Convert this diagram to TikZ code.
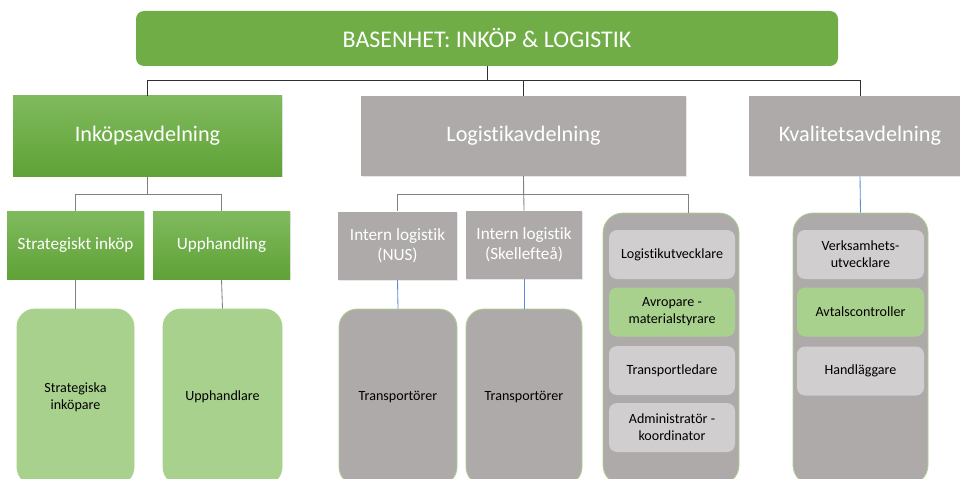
\documentclass[tikz,border=0pt]{standalone}
\usepackage{fontspec}
\setmainfont{Carlito}[Ligatures=NoCommon]
\usetikzlibrary{shadows}

\newlength\pxu
\setlength\pxu{0.025cm}

\definecolor{basgreen}{HTML}{70AD47}
\definecolor{topgreen}{HTML}{80BA5E}
\definecolor{botgreen}{HTML}{5FA236}
\definecolor{lightgreen}{HTML}{A9D18E}
\definecolor{unitgray}{HTML}{AEAAAA}
\definecolor{rolegray}{HTML}{D0CECE}
\definecolor{linkblue}{HTML}{5B8BD6}
\definecolor{linkgray}{HTML}{808080}
\definecolor{linkdark}{HTML}{303030}

\tikzset{
  softshadow/.style={drop shadow={opacity=0.18,shadow xshift=1pt,shadow yshift=-1pt}},
  unit/.style={minimum height=80\pxu, text=white, softshadow,
    font=\fontsize{15.8}{18}\selectfont},
  greenunit/.style={unit, top color=topgreen, bottom color=botgreen},
  grayunit/.style={unit, fill=unitgray},
  subunit/.style={minimum height=68\pxu, align=center, text=white, softshadow,
    font=\fontsize{12.2}{14.5}\selectfont},
  staff/.style={rounded corners=18\pxu, draw=lightgreen, line width=0.6pt,
    minimum width=118\pxu, minimum height=176\pxu, align=center,
    font=\fontsize{10}{12}\selectfont},
  group/.style={rounded corners=20\pxu, draw=lightgreen, line width=0.6pt,
    fill=unitgray, minimum width=136\pxu, minimum height=272\pxu},
  role/.style={rounded corners=8\pxu, fill=rolegray, minimum width=126\pxu,
    minimum height=49\pxu, align=center, font=\fontsize{10}{12}\selectfont},
}

\begin{document}
\begin{tikzpicture}[x=0.025cm, y=-0.025cm]
  \useasboundingbox (0,0) rectangle (960,479);
  \clip (0,0) rectangle (960,479);

  % top unit
  \node[rounded corners=8\pxu, fill=basgreen, text=white, minimum width=702\pxu,
    minimum height=55\pxu, font=\fontsize{17}{20}\selectfont] (base) at (487,38.5)
    {BASENHET: INKÖP \& LOGISTIK};

  % departments
  \node[greenunit, minimum width=269\pxu] (inkop) at (147.5,136) {Inköpsavdelning};
  \node[grayunit, minimum width=325\pxu] (logistik) at (523.5,136) {Logistikavdelning};
  \node[grayunit, minimum width=222\pxu] (kval) at (860,136) {Kvalitetsavdelning};

  % sections
  \begin{scope}[every node/.style={subunit}]
    \node[top color=topgreen, bottom color=botgreen, minimum width=137\pxu] (strat) at (75.5,245) {Strategiskt inköp};
    \node[top color=topgreen, bottom color=botgreen, minimum width=137\pxu] (upph) at (221.5,245) {Upphandling};
    \node[fill=unitgray, minimum width=119\pxu] (nus) at (397.5,245.5) {Intern logistik\\(NUS)};
    \node[fill=unitgray, minimum width=116\pxu] (skel) at (524,245) {Intern logistik\\(Skellefteå)};
  \end{scope}

  % staff
  \node[staff, fill=lightgreen, minimum width=117\pxu] (stratstaff) at (75.5,397) {Strategiska\\inköpare};
  \node[staff, fill=lightgreen, minimum width=119\pxu] (upphstaff) at (222.5,397) {Upphandlare};
  \node[staff, fill=unitgray] (nusstaff) at (398,397) {Transportörer};
  \node[staff, fill=unitgray, minimum width=116\pxu] (skelstaff) at (524,397) {Transportörer};

  % role groups
  \node[group] (lgroup) at (671,349) {};
  \node[group, minimum width=135\pxu] (kgroup) at (860.5,349) {};

  \node[role] (lutv) at (672,254.5) {Logistikutvecklare};
  \node[role, fill=lightgreen] (avrop) at (672,312) {Avropare -\\materialstyrare};
  \node[role] (tled) at (672,370.5) {Transportledare};
  \node[role] (admin) at (672,427.5) {Administratör -\\koordinator};

  \node[role, minimum width=127\pxu] (vutv) at (860.5,254.5) {Verksamhets-\\utvecklare};
  \node[role, fill=lightgreen, minimum width=127\pxu] (avtal) at (860.5,312) {Avtalscontroller};
  \node[role, minimum width=127\pxu] (handl) at (860.5,371) {Handläggare};

  % connectors
  \begin{scope}[linkdark, line width=0.7pt]
    \draw (base.south) -- ++(0,14) -| (inkop.north);
    \draw (base.south) -- ++(0,14) -| (logistik.north);
    \draw (base.south) -- ++(0,14) -| (kval.north);
  \end{scope}
  \begin{scope}[linkgray, line width=0.6pt]
    \draw (inkop.south) -- ++(0,18) -| (strat.north);
    \draw (inkop.south) -- ++(0,18) -| (upph.north);
    \draw (logistik.south) -- ++(0,18) -| (nus.north);
    \draw (logistik.south) -- (skel.north);
    \draw (logistik.south) -- ++(0,18) -| ([xshift=17\pxu]lgroup.north);
    \draw (strat.south) -- (stratstaff.north);
    \draw (upph.south) -- (upphstaff.north);
  \end{scope}
  \begin{scope}[linkblue, line width=0.6pt]
    \draw (nus.south) -- (nusstaff.north);
    \draw (skel.south) -- (skelstaff.north);
    \draw (kval.south) -- (kgroup.north);
  \end{scope}
\end{tikzpicture}
\end{document}
